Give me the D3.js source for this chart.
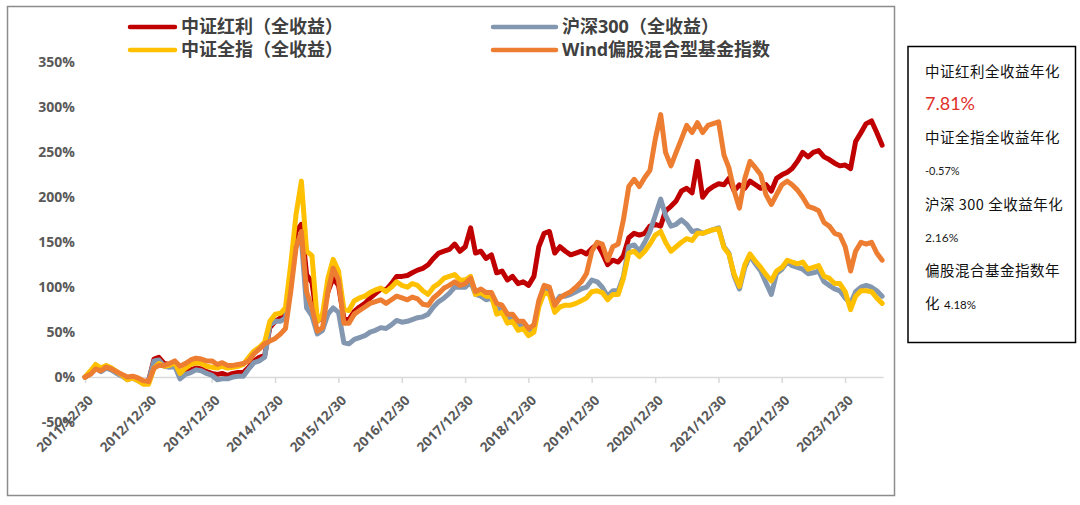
<!DOCTYPE html>
<html><head><meta charset="utf-8">
<script src="https://cdn.jsdelivr.net/npm/d3@7"></script>
<style>
html,body{margin:0;padding:0;background:#fff;}
svg{display:block;font-family:"Open Sans","Noto Sans CJK SC",sans-serif;}
</style></head>
<body><svg id="c" width="1080" height="505"></svg>
<script>
const months = ["2011-12",
"2012-01","2012-02","2012-03","2012-04","2012-05","2012-06","2012-07","2012-08","2012-09","2012-10","2012-11","2012-12",
"2013-01","2013-02","2013-03","2013-04","2013-05","2013-06","2013-07","2013-08","2013-09","2013-10","2013-11","2013-12",
"2014-01","2014-02","2014-03","2014-04","2014-05","2014-06","2014-07","2014-08","2014-09","2014-10","2014-11","2014-12",
"2015-01","2015-02","2015-03","2015-04","2015-05","2015-06","2015-07","2015-08","2015-09","2015-10","2015-11","2015-12",
"2016-01","2016-02","2016-03","2016-04","2016-05","2016-06","2016-07","2016-08","2016-09","2016-10","2016-11","2016-12",
"2017-01","2017-02","2017-03","2017-04","2017-05","2017-06","2017-07","2017-08","2017-09","2017-10","2017-11","2017-12",
"2018-01","2018-02","2018-03","2018-04","2018-05","2018-06","2018-07","2018-08","2018-09","2018-10","2018-11","2018-12",
"2019-01","2019-02","2019-03","2019-04","2019-05","2019-06","2019-07","2019-08","2019-09","2019-10","2019-11","2019-12",
"2020-01","2020-02","2020-03","2020-04","2020-05","2020-06","2020-07","2020-08","2020-09","2020-10","2020-11","2020-12",
"2021-01","2021-02","2021-03","2021-04","2021-05","2021-06","2021-07","2021-08","2021-09","2021-10","2021-11","2021-12",
"2022-01","2022-02","2022-03","2022-04","2022-05","2022-06","2022-07","2022-08","2022-09","2022-10","2022-11","2022-12",
"2023-01","2023-02","2023-03","2023-04","2023-05","2023-06","2023-07","2023-08","2023-09","2023-10","2023-11","2023-12",
"2024-01","2024-02","2024-03","2024-04","2024-05","2024-06","2024-07"];

// 中证红利（全收益）
const dividend = [0,
4,10,7,11,8,5,2,-2,0,-3,-6,-4,
20,22,15,14,15,2,6,8,10,9,6,4,
3,4,2,4,5,5,11,18,22,24,55,62,
66,70,110,162,170,114,105,62,68,95,110,102,
65,64,73,78,82,88,93,98,97,104,112,112,
113,116,119,121,125,132,138,140,142,148,140,145,
166,138,140,132,136,116,118,108,112,104,106,102,
112,145,160,162,138,145,140,136,138,140,137,143,
148,138,125,130,128,135,155,160,158,160,168,170,
168,185,190,196,207,210,205,240,200,208,212,215,
214,221,207,214,210,218,214,210,214,207,221,225,
228,232,240,250,245,250,252,245,242,238,235,236,
232,262,272,282,285,272,258];

// 沪深300（全收益）
const hs300 = [0,
4,10,6,10,8,4,1,-3,-1,-4,-7,-4,
18,19,12,11,12,-2,3,5,8,7,4,2,
-3,-2,-2,0,1,1,9,16,18,22,58,62,
62,66,103,147,153,77,68,48,52,70,77,72,
38,37,42,44,46,50,52,55,54,58,63,61,
62,64,66,67,70,78,84,88,93,100,100,100,
106,92,90,86,88,76,76,65,68,58,58,50,
55,80,96,95,82,90,90,92,95,98,100,108,
106,100,90,96,96,112,145,147,140,150,162,180,
198,180,168,170,175,170,162,163,160,162,164,166,
145,138,112,98,122,135,126,118,105,92,115,120,
128,124,122,120,115,116,118,106,102,98,96,88,
82,95,100,102,100,96,90];

// 中证全指（全收益）
const csiAll = [0,
7,14,10,13,10,6,2,-3,-1,-4,-8,-8,
10,15,12,13,16,4,10,14,16,15,12,11,
10,12,10,11,12,14,22,29,33,39,62,70,
71,77,126,181,218,140,135,62,70,110,131,118,
75,74,85,88,90,94,97,99,95,100,106,102,
100,104,102,96,92,100,104,110,112,114,108,108,
112,92,94,90,90,70,72,60,62,52,54,46,
50,78,94,92,72,78,80,80,82,85,88,95,
96,94,86,92,92,110,138,140,134,140,148,158,
162,150,140,145,150,154,152,160,160,162,164,165,
144,137,114,101,125,137,129,122,114,107,118,122,
130,128,126,128,120,122,124,112,110,104,104,95,
75,90,96,96,95,88,82];

// Wind偏股混合型基金指数
const windFund = [0,
3,9,7,11,9,6,3,0,1,-1,-4,-5,
10,13,13,15,18,12,15,19,21,20,18,18,
14,16,13,13,14,15,18,26,31,37,40,43,
48,54,96,144,162,95,77,51,55,95,121,108,
60,60,70,74,78,82,84,86,82,86,90,88,
86,89,87,81,80,88,93,99,102,106,102,104,
110,95,98,94,94,82,80,70,70,62,62,54,
58,85,102,100,80,88,92,95,100,106,115,140,
150,148,130,145,148,175,212,220,212,222,230,265,
292,250,235,250,265,280,272,283,272,280,282,284,
247,233,207,188,221,240,233,225,203,192,203,214,
218,214,208,200,190,188,185,172,168,160,158,145,
118,140,150,148,150,138,130];

const seriesNames = ["中证红利（全收益）","沪深300（全收益）","中证全指（全收益）","Wind偏股混合型基金指数"];
const seriesColors = ["#C00000","#8497B0","#FFC000","#ED7D31"];
const yTicks = [-50,0,50,100,150,200,250,300,350];
const xTickLabels = ["2011/12/30","2012/12/30","2013/12/30","2014/12/30","2015/12/30","2016/12/30","2017/12/30","2018/12/30","2019/12/30","2020/12/30","2021/12/30","2022/12/30","2023/12/30"];

const boxLines = [
  {t:"中证红利全收益年化", k:"h"},
  {t:"7.81%", k:"red"},
  {t:"中证全指全收益年化", k:"h"},
  {t:"-0.57%", k:"small"},
  {t:"沪深 300 全收益年化", k:"h"},
  {t:"2.16%", k:"num"},
  {t:"偏股混合基金指数年", k:"h"},
  {t:"化", k:"h", extra:"4.18%"}
];

const svg = d3.select("#c");
svg.append("rect").attr("width",1080).attr("height",505).attr("fill","#fff");
svg.append("rect").attr("x",7.5).attr("y",6.5).attr("width",887).attr("height",489)
  .attr("fill","#fff").attr("stroke","#8c8c8c").attr("stroke-width",1.5);

const parseM = d3.timeParse("%Y-%m");
const parseD = d3.timeParse("%Y/%m/%d");
const dates = months.map(s => d3.timeDay.offset(d3.timeMonth.offset(parseM(s),1),-1));
dates[0] = parseD("2011/12/30");

const x = d3.scaleTime().domain([parseD("2011/12/30"), parseD("2024/08/05")]).range([85,883]);
const y = d3.scaleLinear().domain([-50,350]).range([422,62.5]);

// Y axis
const yAxis = svg.append("g").attr("transform","translate(80,0)")
  .call(d3.axisLeft(y).tickValues(yTicks).tickSize(0).tickPadding(5).tickFormat(d => d + "%"));
yAxis.select(".domain").remove();
yAxis.selectAll("text").attr("fill","#595959").attr("font-size",14).attr("font-weight",700)
  .attr("font-family","'Open Sans',sans-serif");

// X axis
const xAxis = svg.append("g").attr("transform",`translate(0,${y(0)})`)
  .call(d3.axisBottom(x).tickValues(xTickLabels.map(parseD)).tickSize(6).tickSizeOuter(0)
    .tickFormat(d3.timeFormat("%Y/%m/%d")));
xAxis.select(".domain").attr("stroke","#D9D9D9").attr("stroke-width",1.5);
xAxis.selectAll(".tick line").attr("stroke","#D9D9D9").attr("stroke-width",1.5);
xAxis.selectAll("text").attr("fill","#595959").attr("font-size",13.5).attr("font-weight",700)
  .attr("font-family","'Open Sans',sans-serif")
  .attr("x",0).attr("y",0).attr("dy","0.35em")
  .attr("text-anchor","end").attr("transform","translate(5,21) rotate(-45)");

// Lines
const all = [dividend, hs300, csiAll, windFund];
const line = d3.line().x((d,i) => x(dates[i])).y(d => y(d)).curve(d3.curveLinear);
[0,1,2,3].forEach(k => {
  svg.append("path").datum(all[k]).attr("d",line).attr("fill","none")
    .attr("stroke",seriesColors[k]).attr("stroke-width",5)
    .attr("stroke-linejoin","round").attr("stroke-linecap","round");
});

// Legend
const legendPos = [[130,175,181,27],[493,556,562,27],[130,175,181,50],[493,556,562,50]];
[0,1,2,3].forEach((k,i) => {
  const p = legendPos[i];
  svg.append("line").attr("x1",p[0]).attr("x2",p[1]).attr("y1",p[3]).attr("y2",p[3])
    .attr("stroke",seriesColors[k]).attr("stroke-width",4.5).attr("stroke-linecap","round");
  svg.append("text").attr("x",p[2]).attr("y",p[3]).attr("dy","0.36em")
    .attr("font-size",18).attr("font-weight",700).attr("fill","#404040")
    .attr("font-family","'Open Sans','Noto Sans CJK SC',sans-serif")
    .text(seriesNames[k]);
});

// Right annotation box
svg.append("rect").attr("x",908).attr("y",46.5).attr("width",167.5).attr("height",296)
  .attr("fill","#fff").attr("stroke","#000").attr("stroke-width",1.5);
const boxY = [72,104,138,171,205,238,271,304];
boxLines.forEach((b,i) => {
  const t = svg.append("text").attr("x",925).attr("y",boxY[i]).attr("dy","0.36em")
    .attr("font-family","'Noto Sans CJK SC',sans-serif");
  if (b.k === "h") {
    t.attr("font-size",14.5).attr("fill","#111").attr("letter-spacing",0.5).text(b.t);
    if (b.extra) {
      t.append("tspan").attr("font-size",11.5).attr("letter-spacing",0)
        .attr("font-family","Lato,'Open Sans',sans-serif").attr("dx",4).text(b.extra);
    }
  } else if (b.k === "red") {
    t.attr("font-size",18).attr("fill","#E0302A").attr("font-family","Lato,'Open Sans',sans-serif").text(b.t);
  } else if (b.k === "small") {
    t.attr("font-size",11).attr("fill","#222").attr("font-family","Lato,'Open Sans',sans-serif").text(b.t);
  } else {
    t.attr("font-size",12).attr("fill","#222").attr("font-family","Lato,'Open Sans',sans-serif").text(b.t);
  }
});
</script></body></html>
